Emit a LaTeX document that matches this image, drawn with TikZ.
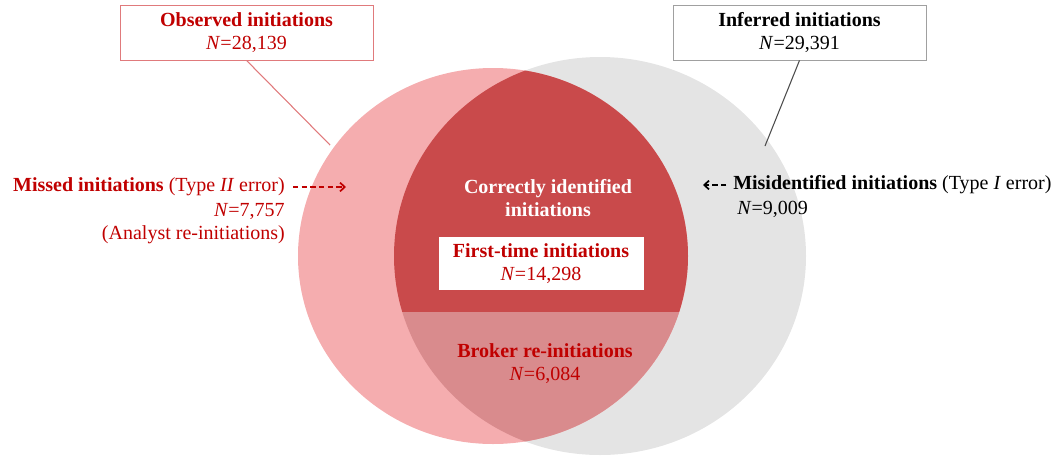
\documentclass[tikz,border=0pt]{standalone}
\usepackage{fontspec}
\setmainfont{Liberation Serif}
\usetikzlibrary{arrows.meta,positioning}
\definecolor{obsred}{HTML}{C00000}
\definecolor{pinkfill}{HTML}{F5ADAF}
\definecolor{grayfill}{HTML}{E4E4E4}
\definecolor{darkfill}{HTML}{C94A4B}
\definecolor{lowfill}{HTML}{D98B8D}
\definecolor{boxred}{HTML}{E07A7C}
\definecolor{boxgray}{HTML}{A0A0A0}
\tikzset{
  lbl/.style={font=\fontsize{15}{17.25}\selectfont, inner sep=0pt, align=center},
  setbox/.style={lbl, draw, line width=0.6pt, fill=white, minimum width=189.75pt, minimum height=41.25pt},
  dasharrow/.style={line width=1.3pt, dash pattern=on 4pt off 2.5pt, -{Straight Barb[length=3.5pt,width=6.5pt]}}
}

\begin{document}
\begin{tikzpicture}[x=0.75pt,y=-0.75pt]
\useasboundingbox (0,0) rectangle (1061,458);
% the two sets
\fill[grayfill] (600,256) ellipse [x radius=154.5pt, y radius=149.25pt];
\fill[pinkfill] (493,256) ellipse [x radius=146.25pt, y radius=141pt];
% overlap, split in two
\begin{scope}
\clip (493,256) ellipse [x radius=146.25pt, y radius=141pt];
\clip (600,256) ellipse [x radius=154.5pt, y radius=149.25pt];
\fill[darkfill] (380,40) rectangle (820,312);
\fill[lowfill] (380,312) rectangle (820,460);
\end{scope}

\node[setbox, draw=boxred, text=obsred] (obs) at (246.5,32.5) {\textbf{Observed initiations}\\\textit{N}=28,139};
\node[setbox, draw=boxgray] (inf) at (799.5,32.5) {\textbf{Inferred initiations}\\\textit{N}=29,391};
\coordinate (obsend) at (330,145);
\coordinate (infend) at (765,146);
\draw[boxred, line width=0.8pt] (obs.south) -- (obsend);
\draw[black!70, line width=0.8pt] (inf.south) -- (infend);

\node[lbl, text=white] (correct) at (548,198) {\textbf{Correctly identified}\\\textbf{initiations}};
\node[setbox, draw=none, text=obsred, minimum width=153.75pt, minimum height=39.75pt] (first) at (541,263.5) {\textbf{First-time initiations}\\\textit{N}=14,298};
\node[lbl, text=obsred] (broker) at (545,363.5) {\textbf{Broker re-initiations}\\\textit{N}=6,084};

\node[lbl, text=obsred, anchor=east] (missed) at (285,187) {\textbf{Missed initiations} (Type \textit{II} error)};
\node[lbl, text=obsred, align=right, anchor=north east] (missedn) at ([yshift=-5pt]missed.south east) {\textit{N}=7,757\\(Analyst re-initiations)};
\coordinate (missedtip) at (346,187);
\draw[dasharrow, obsred] ([xshift=6pt]missed.east) -- (missedtip);

\node[lbl, anchor=west] (misid) at (733,185) {\textbf{Misidentified initiations} (Type \textit{I} error)};
\node[lbl, anchor=north west] (misidn) at ([xshift=3pt,yshift=-5pt]misid.south west) {\textit{N}=9,009};
\coordinate (misidtip) at (703,185);
\draw[dasharrow, black] ([xshift=-5pt]misid.west) -- (misidtip);
\end{tikzpicture}
\end{document}
